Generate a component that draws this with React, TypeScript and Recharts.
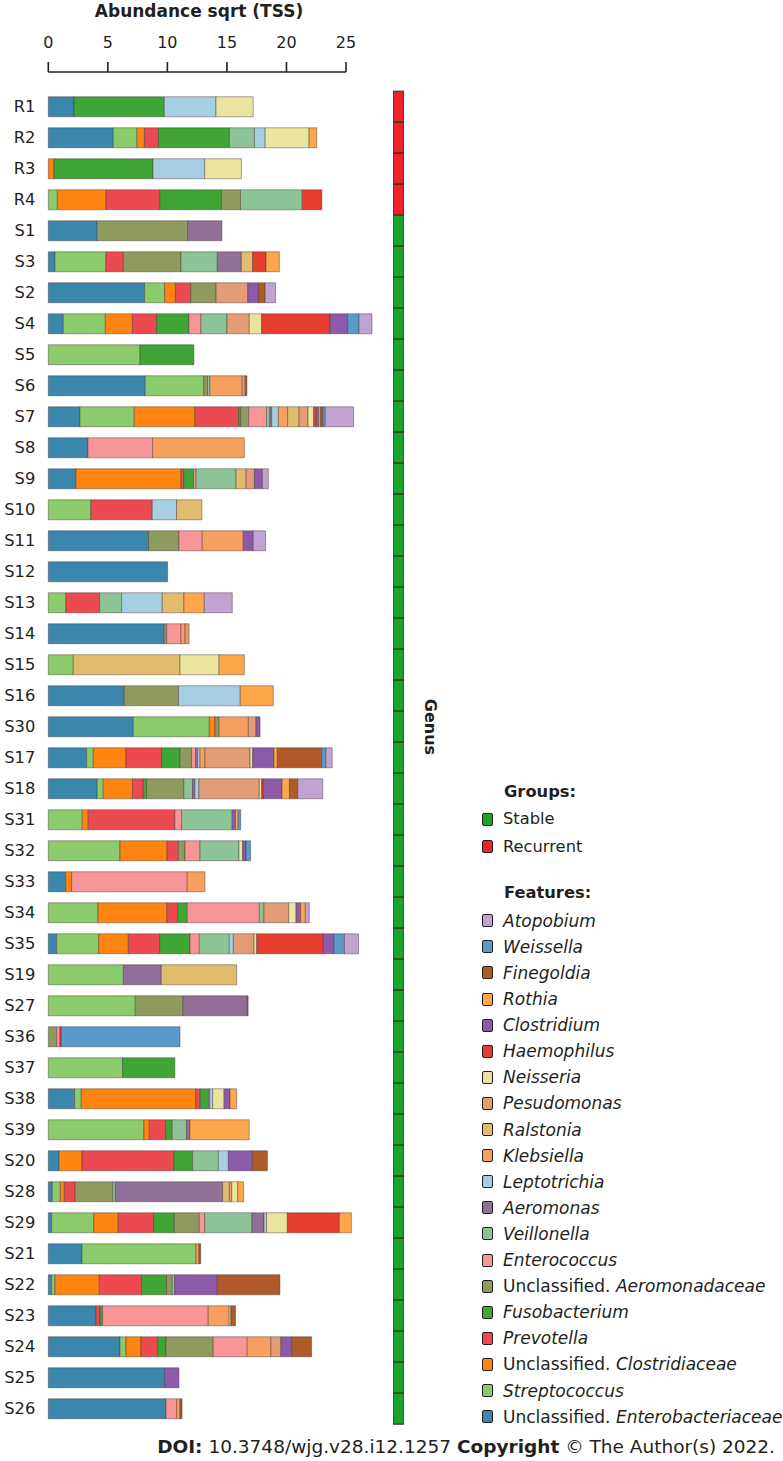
import React from "react";
import { BarChart, Bar, XAxis, YAxis, Cell } from "recharts";

const samples = [
  "R1", "R2", "R3", "R4", "S1", "S3", "S2", "S4", "S5", "S6",
  "S7", "S8", "S9", "S10", "S11", "S12", "S13", "S14", "S15", "S16",
  "S30", "S17", "S18", "S31", "S32", "S33", "S34", "S35", "S19", "S27",
  "S36", "S37", "S38", "S39", "S20", "S28", "S29", "S21", "S22", "S23",
  "S24", "S25", "S26",
];

const groups = samples.map((s) => (s.startsWith("R") ? "Recurrent" : "Stable"));

const xTicks = [0, 5, 10, 15, 20, 25];

// one array per genus, in the same order as samples
const enterobacteriaceae = [
  2.16, 5.46, 0, 0, 4.09, 0.56, 8.09, 1.26, 0, 8.14,
  2.66, 3.33, 2.32, 0, 8.42, 10.02, 0, 9.74, 0, 6.38,
  7.14, 3.22, 4.11, 0, 0, 1.46, 0, 0.7, 0, 0,
  0, 0, 2.21, 0, 0.9, 0.34, 0.28, 2.83, 0.28, 4.0,
  6.02, 9.77, 9.88,
];
const streptococcus = [
  0, 1.99, 0, 0.76, 0, 4.28, 1.68, 3.53, 7.7, 4.93,
  4.56, 0, 0, 3.58, 0, 0, 1.48, 0, 2.1, 0,
  6.38, 0.56, 0.5, 2.85, 6.02, 0, 4.17, 3.53, 6.3, 7.3,
  0, 6.24, 0.56, 8.03, 0, 0.67, 3.55, 9.57, 0.28, 0,
  0.5, 0, 0,
];
const clostridiaceae = [
  0, 0.62, 0.48, 4.09, 0, 0, 0.9, 2.27, 0, 0,
  5.09, 0, 8.82, 0, 0, 0, 0, 0, 0, 0,
  0.48, 2.74, 2.46, 0.5, 3.95, 0.5, 5.79, 2.49, 0, 0,
  0, 0, 9.6, 0.45, 1.93, 0.34, 2.04, 0, 3.72, 0,
  1.26, 0, 0,
];
const prevotella = [
  0, 1.18, 0, 4.51, 0, 1.46, 1.29, 2.04, 0, 0,
  3.67, 0, 0.22, 5.15, 0, 0, 2.83, 0, 0, 0,
  0, 2.99, 0.9, 7.28, 0.95, 0, 0.9, 2.63, 0, 0,
  0, 0, 0.39, 1.37, 7.72, 0.9, 2.97, 0, 3.55, 0.34,
  1.4, 0, 0,
];
const fusobacterium = [
  7.58, 5.96, 8.31, 5.18, 0, 0, 0, 2.71, 4.53, 0,
  0.17, 0, 0.85, 0, 0, 0, 0, 0, 0, 0,
  0, 1.54, 0.28, 0, 0, 0, 0.81, 2.55, 0, 0,
  0, 4.39, 0.7, 0.56, 1.57, 0, 1.74, 0, 2.1, 0.22,
  0.7, 0, 0,
];
const aeromonadaceae = [
  0, 0, 0, 1.6, 7.61, 4.84, 2.13, 0, 0, 0.3,
  0.67, 0, 0, 0, 2.55, 0, 0, 0.2, 0, 4.56,
  0.34, 0.98, 3.13, 0, 0.56, 0, 0, 0, 0, 4.0,
  0.7, 0, 0, 0, 0, 3.16, 2.1, 0, 0.48, 0,
  3.97, 0, 0,
];
const enterococcus = [
  0, 0, 0, 0, 0, 0, 0, 1.01, 0, 0,
  1.51, 5.43, 0.2, 0, 1.96, 0, 0, 1.2, 0, 0,
  0, 0.34, 0, 0.56, 1.26, 9.71, 6.05, 0.78, 0, 0,
  0.28, 0, 0, 0, 0, 0, 0.45, 0, 0, 8.87,
  2.85, 0, 0.9,
];
const veillonella = [
  0, 2.1, 0, 5.18, 0, 3.05, 0, 2.18, 0, 0.2,
  0.28, 0, 3.36, 0, 0, 0, 1.85, 0, 0, 0,
  0, 0, 0.73, 4.25, 3.27, 0, 0.39, 2.52, 0, 0,
  0, 0, 0.1, 1.2, 2.16, 0.22, 3.97, 0, 0.2, 0,
  0, 0, 0,
];
const aeromonas = [
  0, 0, 0, 0, 2.88, 2.02, 0, 0, 0, 0,
  0.15, 0, 0, 0, 0, 0, 0, 0, 0, 0,
  0, 0.17, 0.2, 0, 0, 0, 0, 0, 3.19, 5.4,
  0, 0, 0, 0.28, 0, 9.01, 1.01, 0, 0, 0,
  0, 0, 0,
];
const leptotrichia = [
  4.34, 0.9, 4.34, 0, 0, 0, 0, 0, 0, 0,
  0.56, 0, 0, 2.04, 0, 0, 3.41, 0, 0, 5.18,
  0, 0.2, 0.34, 0, 0, 0, 0, 0.34, 0, 0,
  0, 0, 0.25, 0, 0.84, 0, 0.22, 0, 0, 0,
  0, 0, 0,
];
const klebsiella = [
  0, 0, 0, 0, 0, 0, 0, 0, 0, 2.71,
  0.78, 7.7, 0, 0, 3.44, 0, 0, 0.34, 0, 0,
  2.46, 0.42, 0, 0, 0, 1.48, 0, 0, 0, 0,
  0, 0, 0, 0, 0, 0, 0, 0.25, 0, 1.76,
  1.99, 0, 0.28,
];
const ralstonia = [
  0, 0, 0, 0, 0, 0.95, 0, 0, 0, 0,
  0.95, 0, 0.84, 2.13, 0, 0, 1.82, 0, 8.96, 0,
  0, 0, 0, 0, 0, 0, 0, 0, 6.33, 0,
  0, 0, 0, 0, 0, 0.56, 0, 0, 0, 0,
  0, 0, 0,
];
const pseudomonas = [
  0, 0, 0, 0, 0, 0, 2.66, 1.88, 0, 0.25,
  0.76, 0, 0.7, 0, 0, 0, 0, 0.34, 0, 0,
  0.64, 3.78, 5.07, 0, 0, 0, 2.07, 1.74, 0, 0,
  0, 0, 0, 0, 0, 0.2, 0, 0, 0, 0,
  0.84, 0, 0,
];
const neisseria = [
  3.13, 3.69, 3.08, 0, 0, 0, 0, 1.04, 0, 0,
  0.48, 0, 0, 0, 0, 0, 0, 0, 3.27, 0,
  0, 0.22, 0.2, 0, 0.31, 0, 0.62, 0.22, 0, 0,
  0, 0, 0.95, 0, 0, 0.5, 1.74, 0, 0, 0.14,
  0, 0, 0,
];
const haemophilus = [
  0, 0, 0, 1.65, 0, 1.12, 0, 5.74, 0, 0,
  0.22, 0, 0, 0, 0, 0, 0, 0, 0, 0,
  0, 0, 0.14, 0, 0, 0, 0, 5.6, 0, 0,
  0.12, 0, 0, 0, 0, 0, 4.37, 0, 0, 0,
  0, 0, 0,
];
const clostridium = [
  0, 0, 0, 0, 0, 0, 0.9, 1.48, 0, 0,
  0.2, 0, 0.67, 0, 0.84, 0, 0, 0, 0, 0,
  0.34, 1.79, 1.57, 0.28, 0.28, 0, 0.39, 0.9, 0, 0,
  0, 0, 0.5, 0, 2.02, 0, 0, 0, 3.58, 0,
  0.9, 1.2, 0,
];
const rothia = [
  0, 0.64, 0, 0, 0, 1.12, 0, 0, 0, 0,
  0.15, 0, 0, 0, 0, 0, 1.71, 0, 2.13, 2.77,
  0, 0.28, 0.62, 0.22, 0, 0, 0.39, 0, 0, 0,
  0, 0, 0.56, 4.98, 0, 0.5, 1.01, 0, 0, 0,
  0, 0, 0,
];
const finegoldia = [
  0, 0, 0, 0, 0, 0, 0.56, 0, 0, 0.15,
  0.2, 0, 0, 0, 0, 0, 0, 0, 0, 0,
  0, 3.72, 0.7, 0, 0, 0, 0, 0, 0, 0.08,
  0, 0, 0, 0, 1.26, 0, 0, 0.15, 5.26, 0.39,
  1.68, 0, 0.17,
];
const weissella = [
  0, 0, 0, 0, 0, 0, 0, 0.95, 0, 0,
  0.2, 0, 0, 0, 0, 0, 0, 0, 0, 0,
  0, 0.36, 0, 0.22, 0.39, 0, 0, 0.87, 0, 0,
  9.96, 0, 0, 0, 0, 0, 0, 0, 0, 0,
  0, 0, 0,
];
const atopobium = [
  0, 0, 0, 0, 0, 0, 0.87, 1.09, 0, 0,
  2.38, 0, 0.5, 0, 1.04, 0, 2.35, 0, 0, 0,
  0, 0.53, 2.1, 0, 0, 0, 0.34, 1.18, 0, 0,
  0, 0, 0, 0, 0, 0, 0, 0, 0, 0,
  0, 0, 0,
];

// stacking order, left to right
const featureNames = [
  "Unclassified. Enterobacteriaceae", "Streptococcus", "Unclassified. Clostridiaceae",
  "Prevotella", "Fusobacterium", "Unclassified. Aeromonadaceae", "Enterococcus",
  "Veillonella", "Aeromonas", "Leptotrichia", "Klebsiella", "Ralstonia", "Pesudomonas",
  "Neisseria", "Haemophilus", "Clostridium", "Rothia", "Finegoldia", "Weissella", "Atopobium",
];
const featureValues = [
  enterobacteriaceae, streptococcus, clostridiaceae, prevotella, fusobacterium,
  aeromonadaceae, enterococcus, veillonella, aeromonas, leptotrichia, klebsiella,
  ralstonia, pseudomonas, neisseria, haemophilus, clostridium, rothia, finegoldia,
  weissella, atopobium,
];
const featureColors = [
  "#3A86AD", "#8BCB6B", "#FF8412", "#EA4A50", "#3FA534", "#8F9B5E", "#F89596",
  "#8CC497", "#917098", "#A6CFE3", "#F69F5F", "#E1BC6F", "#E29D77", "#EBE49F",
  "#E53D2E", "#8B5BAA", "#FDA74A", "#AE5A29", "#5A9ACA", "#C1A3D1",
];
const groupColors: Record<string, string> = { Stable: "#1CA32A", Recurrent: "#EE2229" };

const rows = samples.map((s, i) => {
  const row: Record<string, any> = { sample: s, group: groups[i], one: 1 };
  featureValues.forEach((vals, f) => (row["f" + f] = vals[i]));
  return row;
});

const FONT = '"DejaVu Sans", Verdana, sans-serif';
const CHART_W = 380;
const CHART_H = 1434.2;
const MARGIN = { top: 61.2, right: 4.2, bottom: 10, left: 8.3 };
const Y_AXIS_W = 40;
const X_MAX = 27.5;
const PLOT_W = CHART_W - MARGIN.left - MARGIN.right - Y_AXIS_W;
const PX_PER_UNIT = PLOT_W / X_MAX;
const AXIS_Y = 72;

const AxisTick = (props: any) => {
  const { x, payload } = props;
  const v = payload.value;
  return (
    <g>
      <text x={x} y={48.5} textAnchor="middle" fontSize={16} fill="#231f20">
        {v}
      </text>
      <line x1={x} x2={x} y1={AXIS_Y - 10} y2={AXIS_Y} stroke="#231f20" strokeWidth={1.6} />
      {v > 0 && (
        <line
          x1={x - 5 * PX_PER_UNIT}
          x2={x}
          y1={AXIS_Y}
          y2={AXIS_Y}
          stroke="#231f20"
          strokeWidth={1.6}
        />
      )}
    </g>
  );
};

function Genus({ name }: { name: string }) {
  const parts = name.split(". ");
  if (parts.length > 1) {
    return (
      <span>
        {parts[0]}. <i>{parts[1]}</i>
      </span>
    );
  }
  return <i>{name}</i>;
}

function Swatch({ color }: { color: string }) {
  return (
    <span
      style={{
        display: "inline-block",
        width: 9,
        height: 11,
        background: color,
        border: "1.6px solid #231f20",
        borderRadius: 2,
        marginRight: 10,
      }}
    />
  );
}

function LegendBlock() {
  const rowStyle = (cy: number, size = 16.3): React.CSSProperties => ({
    position: "absolute",
    left: 482,
    top: cy - 10,
    height: 20,
    lineHeight: "20px",
    display: "flex",
    alignItems: "center",
    fontSize: size,
    color: "#231f20",
    whiteSpace: "nowrap",
  });
  const legendOrder = featureNames.map((_, i) => featureNames.length - 1 - i);
  return (
    <>
      <div style={{ ...rowStyle(792), left: 504, fontWeight: "bold" }}>Groups:</div>
      {["Stable", "Recurrent"].map((g, i) => (
        <div key={g} style={rowStyle(819 + i * 27.7)}>
          <Swatch color={groupColors[g]} />
          {g}
        </div>
      ))}
      <div style={{ ...rowStyle(893), left: 504, fontWeight: "bold" }}>Features:</div>
      {legendOrder.map((f, i) => (
        <div key={f} style={rowStyle(920.7 + i * 26.1, 17)}>
          <Swatch color={featureColors[f]} />
          <Genus name={featureNames[f]} />
        </div>
      ))}
    </>
  );
}

export default function App() {
  return (
    <div
      style={{
        position: "absolute",
        left: 0,
        top: 0,
        width: 783,
        height: 1461,
        background: "#fff",
        fontFamily: FONT,
        color: "#231f20",
      }}
    >
      <div
        style={{
          position: "absolute",
          left: 199,
          top: 11,
          transform: "translate(-50%, -50%)",
          fontSize: 17,
          fontWeight: "bold",
          whiteSpace: "nowrap",
        }}
      >
        Abundance sqrt (TSS)
      </div>

      <div style={{ position: "absolute", left: 0, top: 0 }}>
        <BarChart
          layout="vertical"
          width={CHART_W}
          height={CHART_H}
          data={rows}
          margin={MARGIN}
          barCategoryGap="18%"
        >
          <XAxis
            type="number"
            orientation="top"
            domain={[0, X_MAX]}
            ticks={xTicks}
            interval={0}
            height={30}
            axisLine={false}
            tickLine={false}
            tickSize={0}
            tickMargin={0}
            tick={<AxisTick />}
          />
          <YAxis
            type="category"
            dataKey="sample"
            width={Y_AXIS_W}
            axisLine={false}
            tickLine={false}
            tickSize={0}
            tickMargin={13}
            interval={0}
            tick={{ fontSize: 16.3, fill: "#231f20" }}
          />
          {featureNames.map((name, f) => (
            <Bar
              key={name}
              dataKey={"f" + f}
              name={name}
              stackId="a"
              fill={featureColors[f]}
              stroke="rgba(70,50,50,0.55)"
              strokeWidth={0.8}
              isAnimationActive={false}
            />
          ))}
        </BarChart>
      </div>

      <div style={{ position: "absolute", left: 393, top: 0 }}>
        <BarChart
          layout="vertical"
          width={11}
          height={CHART_H}
          data={rows}
          margin={{ top: MARGIN.top + 30, right: 0, bottom: MARGIN.bottom, left: 0 }}
          barCategoryGap={0}
        >
          <XAxis type="number" domain={[0, 1]} hide />
          <YAxis type="category" dataKey="sample" hide />
          <Bar dataKey="one" stroke="#1f3322" strokeWidth={1} isAnimationActive={false}>
            {rows.map((r, i) => (
              <Cell key={i} fill={groupColors[r.group]} />
            ))}
          </Bar>
        </BarChart>
      </div>

      <div
        style={{
          position: "absolute",
          left: 430,
          top: 727,
          transform: "translate(-50%, -50%) rotate(90deg)",
          fontSize: 16,
          fontWeight: "bold",
          whiteSpace: "nowrap",
        }}
      >
        Genus
      </div>

      <LegendBlock />

      <div
        style={{
          position: "absolute",
          right: 8,
          top: 1436,
          fontSize: 18.5,
          lineHeight: "22px",
          whiteSpace: "nowrap",
        }}
      >
        <b>DOI:</b> 10.3748/wjg.v28.i12.1257 <b>Copyright</b> © The Author(s) 2022.
      </div>
    </div>
  );
}
